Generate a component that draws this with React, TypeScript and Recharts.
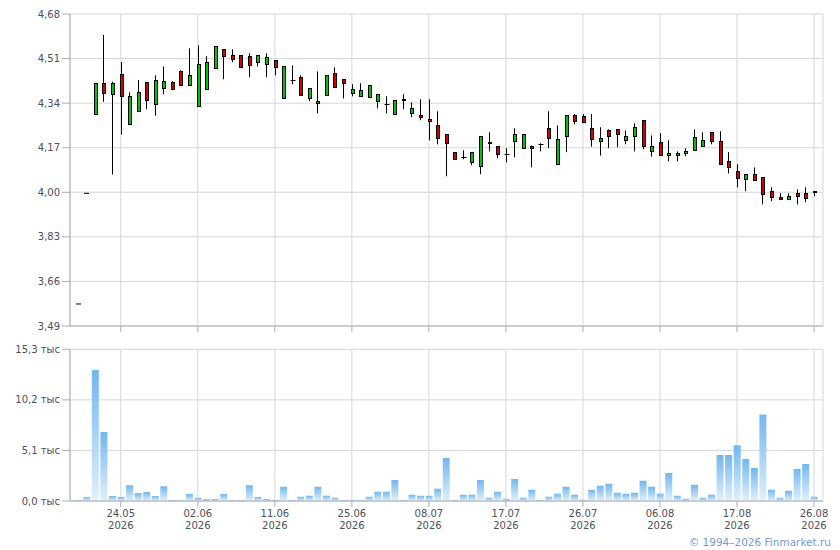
import React from 'react';
import { ComposedChart, Bar, XAxis, YAxis, CartesianGrid } from 'recharts';

// ---- data ----
const opens = [
  3.574, 3.996, 4.297, 4.415, 4.374, 4.45, 4.259, 4.309, 4.419, 4.336,
  4.397, 4.419, 4.461, 4.408, 4.328, 4.393, 4.473, 4.545, 4.522, 4.522,
  4.519, 4.496, 4.488, 4.503, 4.358, 4.428, 4.439, 4.358, 4.339, 4.37,
  4.454, 4.431, 4.378, 4.366, 4.362, 4.347, 4.337, 4.297, 4.355, 4.301,
  4.294, 4.278, 4.255, 4.221, 4.153, 4.133, 4.114, 4.099, 4.191, 4.175,
  4.145, 4.195, 4.168, 4.175, 4.183, 4.244, 4.107, 4.214, 4.294, 4.291,
  4.244, 4.195, 4.236, 4.24, 4.198, 4.214, 4.275, 4.156, 4.191, 4.141,
  4.141, 4.149, 4.16, 4.175, 4.229, 4.195, 4.118, 4.08, 4.05, 4.069,
  4.057, 4.004, 3.981, 3.973, 3.996, 3.996, 4.004,
];
const highs = [
  3.574, 3.996, 4.416, 4.6, 4.422, 4.497, 4.381, 4.428, 4.419, 4.446,
  4.48, 4.423, 4.465, 4.549, 4.561, 4.519, 4.557, 4.545, 4.545, 4.522,
  4.53, 4.522, 4.53, 4.503, 4.48, 4.484, 4.446, 4.397, 4.461, 4.446,
  4.477, 4.431, 4.412, 4.416, 4.408, 4.374, 4.366, 4.351, 4.374, 4.343,
  4.355, 4.355, 4.309, 4.221, 4.153, 4.16, 4.153, 4.213, 4.229, 4.175,
  4.168, 4.244, 4.221, 4.179, 4.187, 4.309, 4.255, 4.294, 4.298, 4.298,
  4.298, 4.248, 4.24, 4.24, 4.236, 4.263, 4.275, 4.217, 4.225, 4.198,
  4.156, 4.168, 4.24, 4.229, 4.229, 4.233, 4.153, 4.107, 4.069, 4.095,
  4.057, 4.019, 3.996, 3.996, 4.011, 4.019, 4.004,
];
const lows = [
  3.574, 3.996, 4.297, 4.345, 4.068, 4.22, 4.259, 4.309, 4.317, 4.292,
  4.374, 4.389, 4.408, 4.408, 4.328, 4.393, 4.473, 4.431, 4.496, 4.477,
  4.439, 4.48, 4.439, 4.446, 4.358, 4.412, 4.37, 4.347, 4.301, 4.37,
  4.4, 4.358, 4.366, 4.366, 4.362, 4.32, 4.301, 4.297, 4.317, 4.286,
  4.275, 4.198, 4.183, 4.061, 4.126, 4.126, 4.103, 4.069, 4.156, 4.13,
  4.114, 4.133, 4.168, 4.095, 4.156, 4.168, 4.107, 4.153, 4.259, 4.264,
  4.174, 4.14, 4.168, 4.172, 4.183, 4.156, 4.164, 4.136, 4.141, 4.118,
  4.118, 4.137, 4.16, 4.175, 4.183, 4.107, 4.072, 4.019, 4.004, 4.046,
  3.954, 3.966, 3.973, 3.973, 3.954, 3.962, 3.985,
];
const closes = [
  3.574, 3.996, 4.416, 4.38, 4.416, 4.368, 4.366, 4.381, 4.351, 4.427,
  4.423, 4.393, 4.408, 4.446, 4.488, 4.496, 4.557, 4.519, 4.51, 4.477,
  4.484, 4.522, 4.515, 4.477, 4.48, 4.428, 4.37, 4.397, 4.347, 4.446,
  4.4, 4.416, 4.393, 4.389, 4.408, 4.374, 4.337, 4.351, 4.351, 4.32,
  4.286, 4.271, 4.206, 4.187, 4.126, 4.133, 4.153, 4.213, 4.187, 4.145,
  4.145, 4.221, 4.221, 4.168, 4.183, 4.206, 4.202, 4.294, 4.271, 4.268,
  4.202, 4.206, 4.214, 4.221, 4.214, 4.248, 4.175, 4.175, 4.141, 4.149,
  4.149, 4.156, 4.21, 4.198, 4.195, 4.107, 4.095, 4.053, 4.069, 4.046,
  3.992, 3.981, 3.973, 3.985, 3.985, 3.977, 4.0,
];
// volume, thousands
const volumes = [
  0.1, 0.4, 13.2, 6.96, 0.5, 0.4, 1.6, 0.8, 0.9, 0.5,
  1.5, 0.1, 0.1, 0.7, 0.3, 0.2, 0.2, 0.7, 0.1, 0.1,
  1.6, 0.4, 0.2, 0.1, 1.43, 0.1, 0.43, 0.53, 1.43, 0.53,
  0.33, 0.1, 0.1, 0.1, 0.43, 0.93, 0.93, 2.13, 0.1, 0.63,
  0.53, 0.53, 1.23, 4.33, 0.1, 0.63, 0.63, 2.13, 0.33, 0.93,
  0.23, 2.23, 0.33, 1.13, 0.1, 0.43, 0.73, 1.43, 0.63, 0.13,
  1.13, 1.53, 1.73, 0.83, 0.73, 0.83, 2.03, 1.43, 0.73, 2.83,
  0.53, 0.23, 1.63, 0.33, 0.63, 4.63, 4.63, 5.63, 4.23, 3.33,
  8.73, 1.13, 0.33, 1.03, 3.23, 3.73, 0.43,
];
const tickIdx = [5, 14, 23, 32, 41, 50, 59, 68, 77, 86];
const tickDates = ['24.05', '02.06', '11.06', '25.06', '08.07', '17.07', '26.07', '06.08', '17.08', '26.08'];
const tickYears = ['2026', '2026', '2026', '2026', '2026', '2026', '2026', '2026', '2026', '2026'];
const priceTicks = [3.49, 3.66, 3.83, 4.0, 4.17, 4.34, 4.51, 4.68];
const volTicks = [0, 5.1, 10.2, 15.3];

const data = opens.map((o, i) => ({
  i,
  open: o,
  high: highs[i],
  low: lows[i],
  close: closes[i],
  vol: volumes[i],
}));

const FONT = '"DejaVu Sans", Verdana, sans-serif';
const TEXT = '#4b505b';
const GRID = '#d4d7dc';
const AXIS = '#a8adb5';
const UP = '#00c400';
const DOWN = '#d20000';
const X_DOMAIN: [number, number] = [-0.935, 87.05];

const Candle = (props: any) => {
  const { x, y, width, height, payload } = props;
  if (x == null || y == null) return <g />;
  const { open, close, high, low } = payload;
  const top = Math.min(y, y + (height || 0));
  const h = Math.abs(height || 0);
  const range = high - low;
  const toY = (v: number) => (range === 0 ? top : top + ((high - v) / range) * h);
  const cx = Math.round(x + width / 2) + 0.5;
  if (range === 0) {
    return <line x1={cx - 2.5} x2={cx + 2.5} y1={top} y2={top} stroke="#000" strokeWidth={1} />;
  }
  const yo = toY(open);
  const yc = toY(close);
  const bTop = Math.round(Math.min(yo, yc)) + 0.5;
  const bBot = Math.round(Math.max(yo, yc)) + 0.5;
  const bH = bBot - bTop;
  return (
    <g>
      <line x1={cx} x2={cx} y1={toY(high)} y2={toY(low)} stroke="#000" strokeWidth={1} />
      {bH < 1 ? (
        <line x1={cx - 2} x2={cx + 3} y1={bTop} y2={bTop} stroke="#000" strokeWidth={1} />
      ) : (
        <rect
          x={cx - 1}
          y={bTop}
          width={3}
          height={bH}
          fill={close > open ? UP : DOWN}
          stroke="#000"
          strokeWidth={1}
        />
      )}
    </g>
  );
};

const EmptyTick = () => <g />;

const DateTick = (props: any) => {
  const { x, y, payload } = props;
  const k = tickIdx.indexOf(payload.value);
  if (k < 0) return <g />;
  return (
    <g>
      <text x={x} y={y + 8} textAnchor="middle" fill={TEXT} fontSize={10} fontFamily={FONT}>
        {tickDates[k]}
      </text>
      <text x={x} y={y + 20} textAnchor="middle" fill={TEXT} fontSize={10} fontFamily={FONT}>
        {tickYears[k]}
      </text>
    </g>
  );
};

const fmtPrice = (v: number) => v.toFixed(2).replace('.', ',');
const fmtVol = (v: number) => `${v.toFixed(1).replace('.', ',')} тыс`;

const tickStyle = { fill: TEXT, fontSize: 10, fontFamily: FONT };

export default function App() {
  return (
    <div style={{ position: 'absolute', left: 0, top: 0, width: 840, height: 550, background: '#fff' }}>
      <div style={{ position: 'absolute', left: 0, top: 0 }}>
        <ComposedChart width={840} height={332} data={data} margin={{ top: 14, right: 17, bottom: 0, left: 0 }}>
          <CartesianGrid stroke={GRID} strokeWidth={1} />
          <XAxis
            type="number"
            dataKey="i"
            domain={X_DOMAIN}
            allowDataOverflow
            ticks={tickIdx}
            interval={0}
            height={6}
            tickSize={6}
            tick={EmptyTick}
            stroke={AXIS}
            tickLine={{ stroke: AXIS }}
          />
          <YAxis
            type="number"
            domain={[3.49, 4.68]}
            allowDataOverflow
            ticks={priceTicks}
            interval={0}
            width={70}
            tickSize={8}
            tickMargin={2}
            tickFormatter={fmtPrice}
            tick={tickStyle}
            stroke={AXIS}
            tickLine={{ stroke: AXIS }}
          />
          <Bar
            dataKey={(d: any) => [d.low, d.high]}
            barSize={8}
            shape={Candle}
            isAnimationActive={false}
          />
        </ComposedChart>
      </div>
      <div style={{ position: 'absolute', left: 0, top: 332 }}>
        <ComposedChart width={840} height={209} data={data} margin={{ top: 17.3, right: 17, bottom: 0, left: 0 }}>
          <defs>
            <linearGradient id="volGrad" x1="0" y1="0" x2="0" y2="1">
              <stop offset="0%" stopColor="#72b7f0" />
              <stop offset="100%" stopColor="#e1f0fb" />
            </linearGradient>
          </defs>
          <CartesianGrid stroke={GRID} strokeWidth={1} />
          <XAxis
            type="number"
            dataKey="i"
            domain={X_DOMAIN}
            allowDataOverflow
            ticks={tickIdx}
            interval={0}
            height={40}
            tickSize={6}
            tickMargin={2}
            tick={DateTick}
            stroke={AXIS}
            tickLine={{ stroke: AXIS }}
          />
          <YAxis
            type="number"
            domain={[0, 15.3]}
            allowDataOverflow
            ticks={volTicks}
            interval={0}
            width={70}
            tickSize={8}
            tickMargin={2}
            tickFormatter={fmtVol}
            tick={tickStyle}
            stroke={AXIS}
            tickLine={{ stroke: AXIS }}
          />
          <Bar dataKey="vol" barSize={7} fill="url(#volGrad)" isAnimationActive={false} />
        </ComposedChart>
      </div>
      <div
        style={{
          position: 'absolute',
          right: 9,
          top: 535,
          fontFamily: FONT,
          fontSize: 10.5,
          lineHeight: '14px',
          color: '#7897d8',
          whiteSpace: 'nowrap',
        }}
      >
        © 1994–2026 Finmarket.ru
      </div>
    </div>
  );
}
